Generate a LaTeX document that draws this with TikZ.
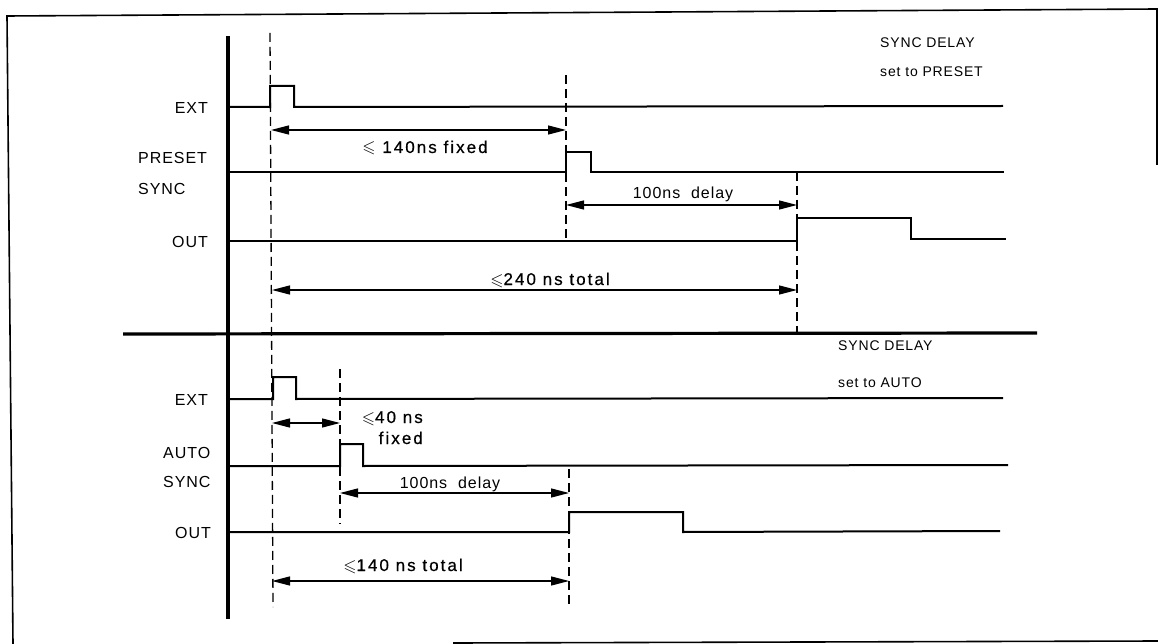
\documentclass[tikz,border=0pt]{standalone}
\usepackage{fontspec}
\setmainfont{Liberation Sans}[LetterSpace=6]
\newfontfamily\timefont{Liberation Sans}[LetterSpace=12, FakeBold=0.6]
\usepackage{amssymb}
\usetikzlibrary{arrows.meta}

\tikzset{
  sig/.style={line width=2pt, line join=miter},
  axis/.style={line width=3.2pt},
  guide/.style={line width=1.3pt, dash pattern=on 9pt off 5pt},
  dim/.style={line width=1.3pt, {Triangle[length=18pt,width=9pt]}-{Triangle[length=18pt,width=9pt]}},
  lbl/.style={inner sep=0pt, text height=11.5pt, text depth=0pt, font=\fontsize{16}{18}\selectfont},
  tlbl/.style={inner sep=0pt, text height=12pt, text depth=0pt, font=\timefont\fontsize{17}{19}\selectfont},
  note/.style={inner sep=0pt, text height=10pt, text depth=0pt, font=\fontsize{14}{16}\selectfont, anchor=west},
}

\begin{document}
\begin{tikzpicture}[x=1pt, y=-1pt]
	\useasboundingbox (0,0) rectangle (1158,644);

	% Draw the frame
	\draw[line width=1.6pt] (13,644) -- (7,16) -- (1157,9) -- (1157,165);
	\draw[line width=1.6pt] (453,643) -- (1158,641);

	% Draw the axis and the separator
	\draw[axis] (228,36) -- (228,619);
	\draw[axis] (123,334) -- (1037,333);

	% Draw the guide lines
	\draw[guide] (270,33) -- (273,607);
	\draw[guide] (566,75) -- (566,240);
	\draw[guide] (797,172) -- (797,333);
	\draw[guide] (340,369) -- (340,524);
	\draw[guide] (569,469) -- (569,607);

	% Draw the signals, SYNC DELAY set to PRESET
	\draw[sig] (228,107) -- (270,107) -- (270,86) -- (294,86) -- (294,107) -- (1003,106);
	\draw[sig] (228,172) -- (566,172) -- (566,152) -- (591,152) -- (591,172) -- (1004,172);
	\draw[sig] (228,241) -- (797,241) -- (797,218) -- (911,218) -- (911,239) -- (1006,239);

	% Draw the signals, SYNC DELAY set to AUTO
	\draw[sig] (228,399) -- (273,399) -- (273,377) -- (296,377) -- (296,399) -- (1003,398);
	\draw[sig] (228,466) -- (340,466) -- (340,444) -- (363,444) -- (363,466) -- (1008,465);
	\draw[sig] (228,532) -- (569,532) -- (569,512) -- (683,512) -- (683,532) -- (1000,531);

	% Signal names
	\node[lbl, anchor=east] (ext1) at (208,108) {EXT};
	\node[lbl, anchor=west] (preset) at (138,158) {PRESET};
	\node[lbl, anchor=west] (sync1) at (138,189) {SYNC};
	\node[lbl, anchor=east] (out1) at (208,242) {OUT};

	\node[lbl, anchor=east] (ext2) at (208,400) {EXT};
	\node[lbl, anchor=west] (auto) at (163,453) {AUTO};
	\node[lbl, anchor=west] (sync2) at (163,482) {SYNC};
	\node[lbl, anchor=east] (out2) at (211,533) {OUT};

	% Mode notes
	\node[note] (mode1) at (880,43) {SYNC DELAY};
	\node[note] (set1) at (880,72) {set to PRESET};
	\node[note] (mode2) at (838,345) {SYNC DELAY};
	\node[note] (set2) at (838,382) {set to AUTO};

	% Ends of the timing arrows
	\coordinate (a1l) at (271,130);
	\coordinate (a1r) at (566,130);
	\coordinate (a2l) at (566,205);
	\coordinate (a2r) at (797,205);
	\coordinate (a3l) at (272,290);
	\coordinate (a3r) at (797,290);
	\coordinate (b1l) at (272,423);
	\coordinate (b1r) at (340,423);
	\coordinate (b2l) at (340,493);
	\coordinate (b2r) at (569,493);
	\coordinate (b3l) at (272,581);
	\coordinate (b3r) at (569,581);

	% Draw the timing arrows
	\draw[dim] (a1l) -- (a1r);
	\draw[dim] (a2l) -- (a2r);
	\draw[dim] (a3l) -- (a3r);
	\draw[dim] (b1l) -- (b1r);
	\draw[dim] (b2l) -- (b2r);
	\draw[dim] (b3l) -- (b3r);

	% Timing labels
	\node[tlbl] (t1) at (425,147) {$\leqslant$ 140ns fixed};
	\node[lbl] (t2) at (683,193) {100ns\ \ delay};
	\node[tlbl] (t3) at (550,279) {$\leqslant$240 ns total};
	\node[tlbl, anchor=east] (t4) at (423,417) {$\leqslant$40 ns};
	\node[tlbl, anchor=east] (t5) at (423,438) {fixed};
	\node[lbl] (t6) at (450,483) {100ns\ \ delay};
	\node[tlbl] (t7) at (403,565) {$\leqslant$140 ns total};

\end{tikzpicture}
\end{document}
